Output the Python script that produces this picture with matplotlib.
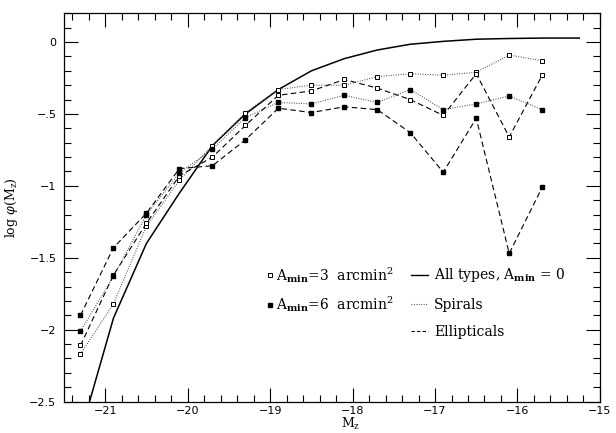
import matplotlib
matplotlib.use("Agg")
import matplotlib.pyplot as plt
from matplotlib.lines import Line2D
from matplotlib.ticker import MultipleLocator, FixedLocator

plt.rcParams['font.family'] = ['DejaVu Serif']
plt.rcParams['mathtext.fontset'] = 'dejavuserif'

# absolute magnitude bins
mag = [-21.3, -20.9, -20.5, -20.1, -19.7, -19.3, -18.9, -18.5,
       -18.1, -17.7, -17.3, -16.9, -16.5, -16.1, -15.7]

# A_min = 3 arcmin^2 (open squares)
spir_a3 = [-2.17, -1.82, -1.28, -0.96, -0.72, -0.49, -0.33, -0.30,
           -0.30, -0.24, -0.22, -0.23, -0.21, -0.09, -0.13]
ell_a3 = [-2.11, -1.62, -1.26, -0.93, -0.80, -0.58, -0.37, -0.34,
          -0.26, -0.32, -0.40, -0.51, -0.22, -0.66, -0.23]

# A_min = 6 arcmin^2 (filled squares)
spir_a6 = [-2.01, -1.63, -1.20, -0.91, -0.745, -0.525, -0.42, -0.43,
           -0.37, -0.42, -0.33, -0.47, -0.43, -0.375, -0.47]
ell_a6 = [-1.90, -1.43, -1.19, -0.88, -0.86, -0.68, -0.46, -0.49,
          -0.45, -0.47, -0.63, -0.905, -0.53, -1.47, -1.01]

# all types, A_min = 0
mag_all = [-21.3, -20.9, -20.5, -20.1, -19.7, -19.3, -18.9, -18.5,
           -18.1, -17.7, -17.3, -16.9, -16.5, -16.1, -15.7, -15.25]
all_types = [-2.72, -1.92, -1.40, -1.05, -0.72, -0.50, -0.33, -0.20,
             -0.115, -0.055, -0.015, 0.005, 0.02, 0.025, 0.028, 0.028]

x_ticks = [-21, -20, -19, -18, -17, -16, -15]
x_tick_labels = ['\u221221', '\u221220', '\u221219', '\u221218', '\u221217', '\u221216', '\u221215']
y_ticks = [0, -0.5, -1, -1.5, -2, -2.5]
y_tick_labels = ['0', '\u2212.5', '\u22121', '\u22121.5', '\u22122', '\u22122.5']

dotted = (0, (0.8, 1.4))
dashed = (0, (5, 3))

fig = plt.figure(figsize=(6.16, 4.33), dpi=100)
ax = fig.add_axes([0.1039, 0.0727, 0.870, 0.8965])

ax.plot(mag_all, all_types, color='black', lw=1.1)
ax.plot(mag, spir_a3, color='#444444', lw=0.8, ls=dotted,
        marker='s', ms=3.5, mfc='white', mec='black', mew=0.7)
ax.plot(mag, ell_a3, color='black', lw=0.8, ls=dashed,
        marker='s', ms=3.5, mfc='white', mec='black', mew=0.7)
ax.plot(mag, spir_a6, color='#444444', lw=0.8, ls=dotted,
        marker='s', ms=3.5, mfc='black', mec='black')
ax.plot(mag, ell_a6, color='black', lw=0.8, ls=dashed,
        marker='s', ms=3.5, mfc='black', mec='black')

ax.set_xlim(-21.5, -15)
ax.set_ylim(-2.5, 0.2)

ax.xaxis.set_major_locator(FixedLocator(x_ticks))
ax.set_xticklabels(x_tick_labels)
ax.xaxis.set_minor_locator(MultipleLocator(0.2))
ax.yaxis.set_major_locator(FixedLocator(y_ticks))
ax.set_yticklabels(y_tick_labels)
ax.yaxis.set_minor_locator(MultipleLocator(0.1))

ax.tick_params(which='both', direction='in', top=True, right=True,
               labelsize=8, width=0.8)
ax.tick_params(which='major', length=10)
ax.tick_params(which='minor', length=5)
ax.tick_params(axis='x', which='major', pad=3.5)
ax.tick_params(axis='y', which='major', pad=5.5)
for lab in ax.get_xticklabels() + ax.get_yticklabels():
    lab.set_family('DejaVu Sans')
for s in ax.spines.values():
    s.set_linewidth(0.9)

ax.set_xlabel(r'$\mathrm{M_z}$', fontsize=9)
ax.xaxis.set_label_coords(0.534, -0.036)
ax.set_ylabel(r'$\mathrm{log}\ \varphi(\mathrm{M_z})$', fontsize=9)
ax.yaxis.set_label_coords(-0.082, 0.5)

# legend: markers
h1 = [Line2D([], [], ls='none', marker='s', ms=3.0, mfc='white', mec='black', mew=0.7),
      Line2D([], [], ls='none', marker='s', ms=3.0, mfc='black', mec='black')]
l1 = [r'A$_{\mathbf{min}}$=3  arcmin$^2$', r'A$_{\mathbf{min}}$=6  arcmin$^2$']
leg1 = ax.legend(h1, l1, loc='upper left', bbox_to_anchor=(0.368, 0.37),
                 frameon=False, fontsize=10, handlelength=0.3,
                 handletextpad=0.3, labelspacing=0.7, borderpad=0)
ax.add_artist(leg1)

# legend: line styles
h2 = [Line2D([], [], color='black', lw=1.0),
      Line2D([], [], color='#444444', lw=0.8, ls=dotted),
      Line2D([], [], color='black', lw=0.8, ls=(0, (3, 2)))]
l2 = [r'All types, A$_{\mathbf{min}}$ = 0', 'Spirals', 'Ellipticals']
ax.legend(h2, l2, loc='upper left', bbox_to_anchor=(0.635, 0.366),
          frameon=False, fontsize=10, handlelength=1.2,
          handletextpad=0.45, labelspacing=0.95, borderpad=0)

fig.savefig('out.png', dpi=100)
